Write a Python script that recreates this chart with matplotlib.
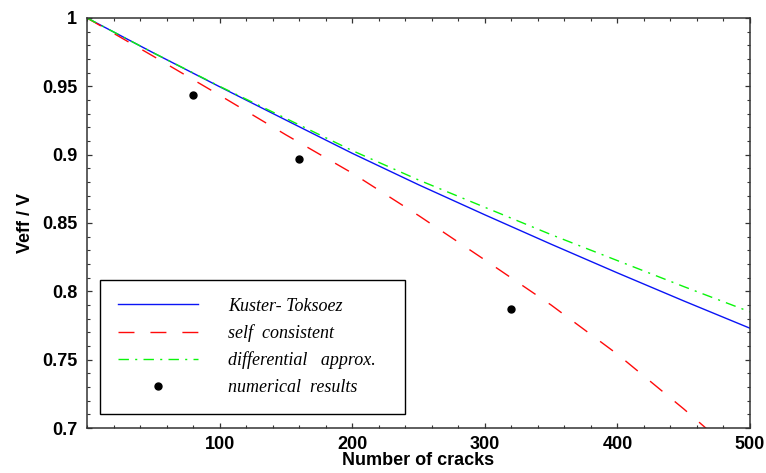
import numpy as np
import matplotlib
matplotlib.use("Agg")
import matplotlib.pyplot as plt
import matplotlib.ticker as ticker

plt.rcParams['lines.scale_dashes'] = False

# effective velocity ratio vs. crack count
n_cracks = [0, 50, 100, 150, 200, 250, 300, 350, 400, 450, 500]
kuster_toksoez = [1.0, 0.9745, 0.9497, 0.9253, 0.9010, 0.8780, 0.8560, 0.8345, 0.8135, 0.7930, 0.7730]
self_consistent = [1.0, 0.9720, 0.9435, 0.9145, 0.8865, 0.8555, 0.8230, 0.7900, 0.7540, 0.7140, 0.6720]
differential = [1.0, 0.9745, 0.9500, 0.9265, 0.9030, 0.8815, 0.8615, 0.8415, 0.8225, 0.8035, 0.7850]

num_cracks = [80, 160, 320]
num_veff = [0.9437, 0.8968, 0.7870]

x_ticks = [100, 200, 300, 400, 500]
y_ticks = [0.7, 0.75, 0.8, 0.85, 0.9, 0.95, 1.0]
y_ticklabels = ['0.7', '0.75', '0.8', '0.85', '0.9', '0.95', '1']

fig = plt.figure(figsize=(7.66, 4.73), dpi=100)
ax = fig.add_axes([0.1136, 0.0951, 0.8655, 0.8669])

ax.plot(n_cracks, kuster_toksoez, color='#0a14f5', lw=1.0, label='Kuster- Toksoez')
ax.plot(n_cracks, self_consistent, color='#ff0a0a', lw=1.0, dashes=(11.5, 11.5),
        label='self  consistent')
ax.plot(n_cracks, differential, color='#0af50a', lw=1.0, dashes=(7.5, 4.5, 1.5, 4.5),
        label='differential   approx.')
ax.plot(num_cracks, num_veff, 'o', color='black', ms=5, label='numerical  results')

ax.set_xlim(0, 500)
ax.set_ylim(0.7, 1.0)
ax.set_xticks(x_ticks)
ax.set_yticks(y_ticks)
ax.set_yticklabels(y_ticklabels)
ax.xaxis.set_minor_locator(ticker.MultipleLocator(20))
ax.yaxis.set_minor_locator(ticker.MultipleLocator(0.01))
ax.tick_params(which='both', direction='in', top=True, right=True, color='#333333')
ax.tick_params(which='major', length=3.5, width=0.9, pad=7)
ax.tick_params(axis='x', which='major', pad=6)
ax.tick_params(which='minor', length=2.5, width=0.8)
for lab in ax.get_xticklabels() + ax.get_yticklabels():
    lab.set_fontfamily('Liberation Sans')
    lab.set_fontweight('bold')
    lab.set_fontsize(13)
for sp in ax.spines.values():
    sp.set_color('#333333')
    sp.set_linewidth(1.1)

ax.set_xlabel('Number of cracks', fontfamily='Liberation Sans', fontweight='bold',
              fontsize=13, labelpad=-1)
ax.set_ylabel('Veff / V', fontfamily='Liberation Sans', fontweight='bold',
              fontsize=13, labelpad=6)

leg = ax.legend(loc='lower left', bbox_to_anchor=(0.0196, 0.034, 0.46, 0.332),
                mode='expand', borderaxespad=0, fancybox=False, edgecolor='black',
                framealpha=1, handlelength=4.4, handletextpad=1.7, borderpad=1.0,
                labelspacing=0.53, numpoints=1,
                prop={'family': 'Liberation Serif', 'style': 'italic', 'size': 13})
leg.get_frame().set_linewidth(1.0)

fig.savefig('out.png', dpi=100)
